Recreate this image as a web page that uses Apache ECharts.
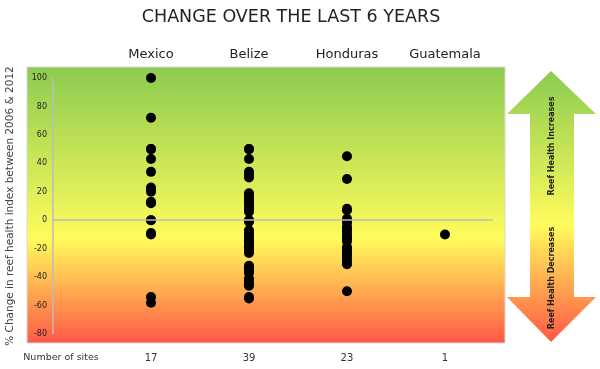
<!DOCTYPE html>
<html><head><meta charset="utf-8">
<script src="https://cdn.jsdelivr.net/npm/echarts@6/dist/echarts.min.js"></script>
<style>html,body{margin:0;padding:0;background:#fff}#c{width:600px;height:369px}</style>
</head><body><div id="c"></div>
<script>
const countries = ['Mexico', 'Belize', 'Honduras', 'Guatemala'];
const siteCounts = [17, 39, 23, 1];
const mexico = [100, 72, 50, 50, 43, 34, 23, 22, 20, 13, 12, 0, 0, -9, -10, -54, -58];
const belize = [50, 50, 43, 34, 32, 30, 19, 18, 16, 14, 12, 10, 8, 6, 0, 0, -1, -7, -9, -10, -12, -14, -15, -17, -19, -20, -22, -23, -32, -33, -34, -36, -37, -41, -43, -45, -46, -54, -55];
const honduras = [45, 29, 8, 7, 1, 0, -2, -5, -6, -8, -10, -12, -13, -15, -19, -20, -22, -24, -25, -27, -29, -31, -50];
const guatemala = [-10];
const yTicks = [-80, -60, -40, -20, 0, 20, 40, 60, 80, 100];

const allValues = [mexico, belize, honduras, guatemala];
const points = [];
allValues.forEach((arr, i) => arr.forEach(v => points.push([i + 1, v])));

const FONT = 'DejaVu Sans';
const chart = echarts.init(document.getElementById('c'));
chart.setOption({
  animation: false,
  textStyle: { fontFamily: FONT },
  grid: { left: 53, right: 107, top: 78, bottom: 35, containLabel: false, outerBoundsMode: 'none' },
  xAxis: [{
    type: 'value', position: 'bottom', min: 0, max: 4.49, interval: 1,
    axisLine: { show: false }, axisTick: { show: false }, splitLine: { show: false },
    axisLabel: { margin: 19, fontSize: 10, color: '#333', fontFamily: FONT,
      formatter: v => (Number.isInteger(v) && v >= 1 && v <= 4) ? String(siteCounts[v - 1]) : '' }
  }, {
    type: 'value', position: 'top', min: 0, max: 4.49, interval: 1,
    axisLine: { show: false }, axisTick: { show: false }, splitLine: { show: false },
    axisLabel: { margin: 17, fontSize: 13, color: '#222', fontFamily: FONT,
      formatter: v => (Number.isInteger(v) && v >= 1 && v <= 4) ? countries[v - 1] : '' }
  }],
  yAxis: {
    type: 'value', min: yTicks[0], max: yTicks[yTicks.length - 1], interval: 20,
    name: '% Change in reef health index between 2006 & 2012',
    nameLocation: 'middle', nameGap: 37,
    nameTextStyle: { fontSize: 10.5, color: '#444', fontFamily: FONT },
    axisLine: { show: true, lineStyle: { color: '#bdbdbd', width: 1.5 } },
    axisTick: { show: false }, splitLine: { show: false },
    axisLabel: { fontSize: 8, color: '#222', margin: 6, fontFamily: FONT }
  },
  graphic: [
    { type: 'rect', z: -10, shape: { x: 27, y: 67, width: 478, height: 276 },
      style: { stroke: '#d9d9d9', lineWidth: 1,
        fill: new echarts.graphic.LinearGradient(0, 0, 0, 1, [
          { offset: 0, color: '#8bcb51' }, { offset: 0.62, color: '#fffc5c' }, { offset: 1, color: '#ff5846' }]) } },
    { type: 'polygon', z: -10,
      shape: { points: [[551, 71], [596, 114], [574, 114], [574, 297], [596, 297], [551, 342], [507, 297], [530, 297], [530, 114], [507, 114]] },
      style: { fill: new echarts.graphic.LinearGradient(0, 0, 0, 1, [
          { offset: 0, color: '#8bcb51' }, { offset: 0.57, color: '#fffc5c' }, { offset: 1, color: '#ff5846' }]) } },
    { type: 'text', x: 552, y: 146, rotation: Math.PI / 2, z: 10,
      style: { text: 'Reef Health Increases', fill: '#222', font: 'bold 8px "DejaVu Sans"', textAlign: 'center', textVerticalAlign: 'middle' } },
    { type: 'text', x: 552, y: 278, rotation: Math.PI / 2, z: 10,
      style: { text: 'Reef Health Decreases', fill: '#222', font: 'bold 8px "DejaVu Sans"', textAlign: 'center', textVerticalAlign: 'middle' } },
    { type: 'text', x: 291, y: 17, z: 10,
      style: { text: 'CHANGE OVER THE LAST 6 YEARS', fill: '#222', font: '17.5px "DejaVu Sans"', textAlign: 'center', textVerticalAlign: 'middle' } },
    { type: 'text', x: 61, y: 358, z: 10,
      style: { text: 'Number of sites', fill: '#333', font: '9.5px "DejaVu Sans"', textAlign: 'center', textVerticalAlign: 'middle' } }
  ],
  series: [{
    type: 'scatter', data: points, symbolSize: 10,
    itemStyle: { color: '#000', opacity: 1 },
    markLine: { silent: true, symbol: 'none', label: { show: false },
      lineStyle: { color: '#bdbdbd', width: 1.5, type: 'solid' },
      data: [{ yAxis: 0 }] }
  }]
});
</script></body></html>
